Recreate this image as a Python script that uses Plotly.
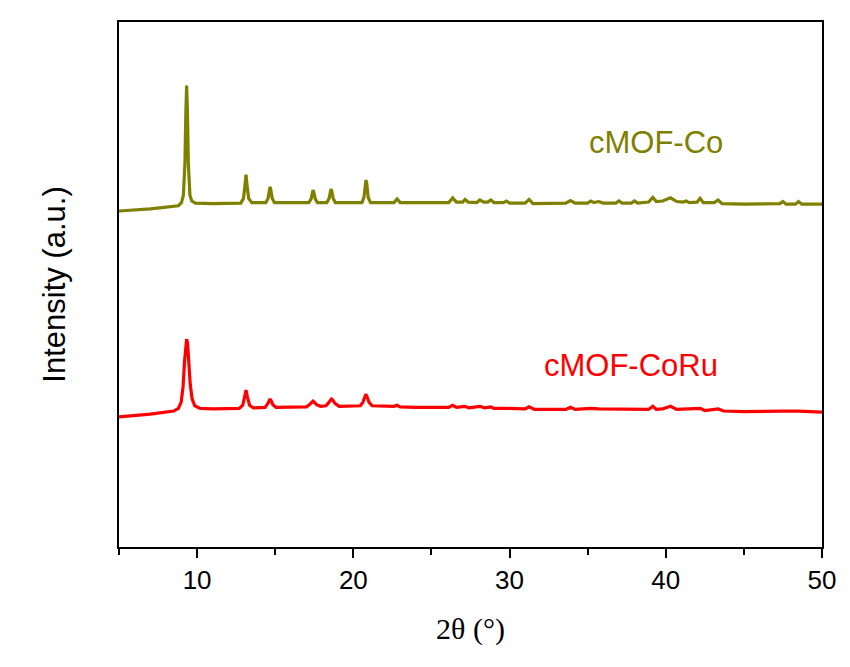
import plotly.graph_objects as go

# 2theta (deg) and intensity (a.u., offset)
co_x = [5.0, 7.0, 8.8, 9.0, 9.12, 9.22, 9.28, 9.33, 9.38, 9.44, 9.54, 9.66, 9.9, 11.0, 12.8, 12.97,
        13.06, 13.13, 13.2, 13.3, 13.5, 14.4, 14.54, 14.62, 14.67, 14.72, 14.81, 14.95, 17.15,
        17.3, 17.38, 17.42, 17.47, 17.56, 17.7, 18.3, 18.45, 18.53, 18.57, 18.62, 18.71, 18.85,
        20.55, 20.68, 20.76, 20.81, 20.86, 20.95, 21.1, 22.6, 22.8, 23.0, 24.0, 26.1, 26.36, 26.6,
        27.0, 27.15, 27.35, 27.9, 28.1, 28.35, 28.6, 28.8, 29.0, 29.6, 29.8, 30.0, 31.0, 31.25,
        31.5, 33.6, 33.9, 34.2, 35.0, 35.2, 35.4, 35.7, 36.0, 36.8, 37.0, 37.2, 37.8, 38.0, 38.2,
        38.9, 39.17, 39.4, 39.8, 40.3, 40.7, 41.1, 41.3, 41.5, 42.0, 42.2, 42.4, 43.1, 43.35, 43.6,
        45.0, 47.3, 47.5, 47.7, 48.3, 48.5, 48.7, 50.0]
co_y = [64.0, 64.4, 65.0, 65.6, 67.0, 73.0, 83.0, 87.9, 83.0, 73.0, 67.0, 65.9, 65.5, 65.4, 65.5, 66.4,
        68.8, 70.9, 68.8, 66.4, 65.6, 65.6, 66.4, 68.0, 68.6, 68.0, 66.4, 65.6, 65.6,
        66.3, 67.6, 68.0, 67.6, 66.3, 65.6, 65.6, 66.4, 67.8, 68.2, 67.8, 66.4, 65.6,
        65.6, 66.6, 69.2, 69.9, 69.2, 66.6, 65.6, 65.6, 66.3, 65.6, 65.6, 65.6, 66.5, 65.7,
        65.7, 66.2, 65.7, 65.6, 66.1, 65.7, 65.7, 66.1, 65.6, 65.6, 65.9, 65.5, 65.5, 66.2,
        65.4, 65.5, 66.0, 65.5, 65.5, 65.9, 65.6, 65.8, 65.5, 65.5, 65.9, 65.5, 65.5, 65.9, 65.5,
        65.7, 66.6, 65.8, 65.9, 66.5, 65.8, 65.7, 65.9, 65.6, 65.7, 66.4, 65.6, 65.6, 66.1, 65.4,
        65.3, 65.4, 65.8, 65.3, 65.3, 65.8, 65.3, 65.3]

coru_x = [5.0, 7.0, 8.5, 8.8, 8.98, 9.1, 9.2, 9.27, 9.33, 9.39, 9.46, 9.56, 9.68, 9.85, 10.2, 11.0,
          12.7, 12.92, 13.04, 13.13, 13.22, 13.36, 13.6, 14.35, 14.52, 14.62, 14.67, 14.73, 14.85,
          15.05, 17.0, 17.22, 17.36, 17.42, 17.5, 17.65, 17.9, 18.25, 18.42, 18.54, 18.6, 18.68,
          18.84, 19.1, 20.45, 20.62, 20.74, 20.8, 20.87, 21.0, 21.2, 22.6, 22.8, 23.0, 24.0, 26.1,
          26.36, 26.6, 27.15, 27.4, 28.1, 28.4, 28.8, 29.0, 29.8, 31.0, 31.25, 31.6, 33.6, 33.9,
          34.2, 35.2, 35.7, 37.0, 38.0, 38.9, 39.17, 39.4, 39.8, 40.3, 40.7, 42.2, 42.5, 43.35,
          43.7, 45.0, 47.5, 48.5, 50.0]
coru_y = [24.8, 25.3, 25.9, 26.4, 27.6, 30.5, 35.5, 38.8, 39.6, 38.8, 35.8, 31.0, 28.2, 26.9, 26.4, 26.3,
          26.4, 27.0, 28.6, 29.9, 28.6, 27.0, 26.5, 26.6, 27.3, 28.0, 28.2, 27.9, 27.1,
          26.6, 26.7, 27.2, 27.7, 27.8, 27.6, 27.1, 26.8, 26.9, 27.5, 28.1, 28.2, 28.0,
          27.3, 26.8, 26.9, 27.6, 28.8, 29.1, 28.7, 27.6, 26.9, 26.8, 27.0, 26.7, 26.6, 26.6,
          27.0, 26.6, 26.8, 26.5, 26.8, 26.5, 26.7, 26.4, 26.4, 26.3, 26.7, 26.2, 26.2, 26.6,
          26.2, 26.4, 26.3, 26.3, 26.2, 26.2, 26.8, 26.2, 26.3, 26.8, 26.2, 26.4, 26.0, 26.3,
          25.9, 25.8, 25.9, 25.9, 25.7]

labels = ["cMOF-Co", "cMOF-CoRu"]
colors = ["#808000", "#ff0000"]
label_pos = [(39.4, 77.0), (37.8, 34.5)]

x_major = [10, 20, 30, 40, 50]
x_range = [5, 50]
y_range = [0, 100]

fig = go.Figure()
for (xs, ys), name, col in zip([(co_x, co_y), (coru_x, coru_y)], labels, colors):
    fig.add_trace(go.Scatter(x=xs, y=ys, mode="lines", name=name,
                             line=dict(color=col, width=3.2), showlegend=False))

for name, col, (lx, ly) in zip(labels, colors, label_pos):
    fig.add_annotation(x=lx, y=ly, text=name, showarrow=False,
                       font=dict(family="Liberation Sans, Arial", size=31, color=col))

fig.update_xaxes(range=x_range, tickvals=x_major, ticks="outside", ticklen=9, tickwidth=2,
                 tickcolor="black", showline=True, linecolor="black", linewidth=2, mirror=True,
                 showgrid=False, zeroline=False,
                 tickfont=dict(family="Liberation Sans, Arial", size=26, color="black"),
                 minor=dict(dtick=10, tick0=5, ticks="outside", ticklen=6, tickwidth=2, tickcolor="black"),
                 title=dict(text="2θ (°)", font=dict(family="Liberation Serif, Times New Roman", size=30, color="black"),
                            standoff=24))
fig.update_yaxes(range=y_range, showticklabels=False, ticks="", showline=True, linecolor="black",
                 linewidth=2, mirror=True, showgrid=False, zeroline=False,
                 title=dict(text="Intensity (a.u.)", font=dict(family="Liberation Sans, Arial", size=31, color="black"),
                            standoff=42))

fig.update_layout(width=850, height=667, margin=dict(l=119, r=28, t=22, b=120),
                  plot_bgcolor="white", paper_bgcolor="white")
fig.write_html("out.html")
